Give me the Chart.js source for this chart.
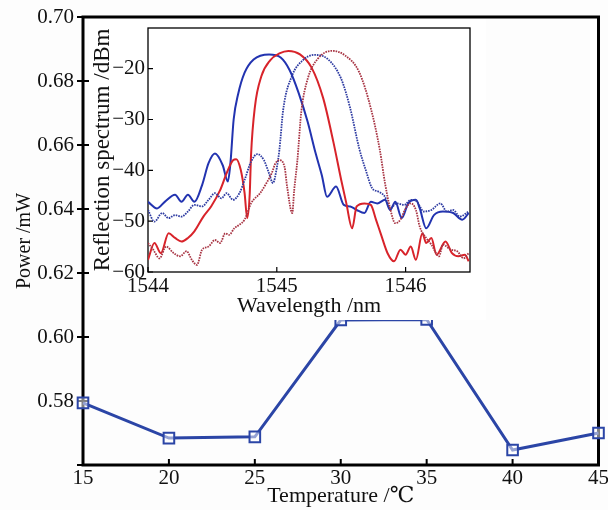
<!DOCTYPE html>
<html>
<head>
<meta charset="utf-8">
<script src="https://cdn.jsdelivr.net/npm/chart.js@4.4.0/dist/chart.umd.min.js"></script>
<style>
  html, body { margin: 0; padding: 0; background: #fdfdfd; }
  #wrap { position: relative; width: 608px; height: 510px; }
  #main { position: absolute; left: 0; top: 0; }
  #inset { position: absolute; left: 89px; top: 19px; background: #fff; }
</style>
</head>
<body>
<div id="wrap">
  <canvas id="main" width="608" height="510"></canvas>
  <canvas id="inset" width="397" height="301"></canvas>
</div>
<script>
// main plot: power vs temperature
const temps = [15, 20, 25, 30, 35, 40, 45];
const power = [0.5794, 0.5684, 0.5688, 0.6053, 0.6055, 0.5647, 0.5700];

// inset: reflection spectra (wavelength nm / level dBm)
const blueSolidNm = [1544.00,1544.07,1544.13,1544.21,1544.26,1544.31,1544.36,1544.42,1544.47,1544.52,1544.58,1544.62,1544.64,1544.665,1544.70,1544.75,1544.82,1544.94,1545.03,1545.10,1545.17,1545.24,1545.30,1545.35,1545.39,1545.46,1545.52,1545.57,1545.62,1545.68,1545.73,1545.78,1545.84,1545.88,1545.92,1545.97,1546.02,1546.08,1546.11,1546.16,1546.22,1546.29,1546.37,1546.44,1546.49];
const blueSolidDbm = [-46.2,-47.5,-46.2,-44.8,-46.2,-44.8,-46.2,-42.9,-38.6,-36.7,-39.0,-42.2,-38.6,-30.0,-25.0,-20.8,-18.2,-17.2,-17.8,-20.3,-24.8,-30.5,-36.5,-41.0,-45.2,-43.2,-46.8,-47.1,-47.8,-48.4,-46.2,-46.5,-45.8,-47.8,-46.2,-49.4,-46.5,-45.8,-47.5,-51.4,-48.8,-48.1,-48.4,-49.7,-48.4];

const redSolidNm = [1544.00,1544.05,1544.10,1544.16,1544.21,1544.26,1544.31,1544.36,1544.43,1544.49,1544.56,1544.61,1544.66,1544.685,1544.72,1544.75,1544.77,1544.79,1544.80,1544.83,1544.88,1544.95,1545.02,1545.09,1545.18,1545.27,1545.36,1545.44,1545.50,1545.54,1545.585,1545.62,1545.68,1545.73,1545.77,1545.81,1545.86,1545.91,1545.96,1546.00,1546.04,1546.08,1546.13,1546.16,1546.20,1546.24,1546.31,1546.36,1546.41,1546.46,1546.49];
const redSolidDbm = [-57.6,-54.3,-56.3,-52.4,-53.3,-54.0,-53.3,-52.0,-49.1,-47.1,-43.9,-40.6,-38.0,-37.8,-39.9,-44.5,-49.4,-44.5,-37.0,-27.5,-21.5,-18.3,-17.0,-16.5,-17.2,-19.8,-25.8,-34.5,-41.9,-46.5,-51.4,-47.1,-46.5,-46.8,-49.7,-52.7,-56.3,-57.9,-55.6,-56.6,-55.0,-57.6,-52.4,-54.3,-53.3,-56.6,-54.0,-56.3,-56.9,-56.6,-57.9];

const blueDotNm = [1544.00,1544.05,1544.11,1544.16,1544.21,1544.26,1544.31,1544.36,1544.42,1544.47,1544.52,1544.57,1544.61,1544.66,1544.71,1544.75,1544.80,1544.85,1544.90,1544.94,1544.97,1545.00,1545.02,1545.05,1545.12,1545.20,1545.29,1545.39,1545.50,1545.57,1545.64,1545.69,1545.74,1545.79,1545.84,1545.88,1545.93,1545.99,1546.04,1546.09,1546.14,1546.20,1546.27,1546.32,1546.37,1546.42,1546.49];
const blueDotDbm = [-47.8,-50.1,-48.4,-49.4,-48.8,-49.1,-48.1,-46.8,-47.1,-45.8,-44.5,-45.5,-44.5,-45.8,-44.5,-41.9,-38.3,-36.8,-38.0,-40.6,-42.5,-39.5,-36.0,-28.0,-21.3,-18.4,-17.3,-18.0,-22.0,-27.8,-35.7,-39.9,-43.5,-44.2,-45.2,-47.5,-46.5,-46.8,-45.8,-46.2,-48.1,-47.8,-46.5,-48.1,-47.8,-49.1,-48.1];

const redDotNm = [1544.00,1544.04,1544.09,1544.14,1544.20,1544.25,1544.30,1544.34,1544.38,1544.42,1544.47,1544.52,1544.56,1544.60,1544.63,1544.67,1544.71,1544.75,1544.80,1544.87,1544.92,1544.96,1544.99,1545.02,1545.06,1545.08,1545.12,1545.135,1545.16,1545.19,1545.24,1545.32,1545.43,1545.53,1545.64,1545.73,1545.80,1545.84,1545.88,1545.92,1545.96,1546.00,1546.04,1546.08,1546.11,1546.16,1546.20,1546.26,1546.29,1546.35,1546.40,1546.45,1546.49];
const redDotDbm = [-54.3,-55.6,-57.3,-55.0,-56.3,-56.9,-55.9,-57.6,-58.6,-55.6,-55.0,-53.7,-54.3,-52.4,-52.7,-51.4,-50.7,-49.7,-46.5,-44.5,-42.5,-40.6,-38.6,-38.0,-39.3,-43.2,-48.4,-43.9,-38.0,-28.5,-22.0,-18.0,-16.5,-17.4,-20.7,-27.8,-36.0,-42.5,-47.5,-50.4,-49.7,-47.5,-46.5,-47.8,-51.1,-53.3,-54.6,-56.9,-54.6,-55.6,-55.9,-57.3,-56.3];

const pts = (xs, ys) => xs.map((x, i) => ({ x: x, y: ys[i] }));
const minus = v => (v < 0 ? '\u2212' + Math.abs(v) : String(v));

Chart.defaults.font.family = '"Liberation Serif", "DejaVu Serif", serif';
Chart.defaults.color = '#111';

// box round the plot area plus inward tick marks
const framePlugin = {
  id: 'frame',
  beforeDatasetsDraw(chart, args, o) {
    const ctx = chart.ctx, a = chart.chartArea;
    ctx.save();
    ctx.strokeStyle = '#000';
    ctx.lineWidth = o.width;
    ctx.strokeRect(a.left, a.top, a.right - a.left, a.bottom - a.top);
    ctx.lineWidth = o.tickWidth;
    ctx.beginPath();
    if (o.xIn) {
      chart.scales.x.ticks.forEach(t => {
        const px = chart.scales.x.getPixelForValue(t.value);
        ctx.moveTo(px, a.bottom); ctx.lineTo(px, a.bottom - o.len);
      });
    }
    if (o.yIn) {
      chart.scales.y.ticks.forEach(t => {
        const py = chart.scales.y.getPixelForValue(t.value);
        ctx.moveTo(a.left, py); ctx.lineTo(a.left + o.len, py);
      });
    }
    ctx.stroke();
    ctx.restore();
  }
};

new Chart(document.getElementById('main'), {
  type: 'line',
  data: {
    datasets: [{
      data: pts(temps, power),
      borderColor: '#2b45a6',
      borderWidth: 3,
      pointStyle: 'rect',
      pointRadius: 7.5,
      pointBorderWidth: 2,
      pointBorderColor: '#2b45a6',
      pointBackgroundColor: 'rgba(255,255,255,0.5)',
      tension: 0,
      clip: false
    }]
  },
  options: {
    responsive: false,
    animation: false,
    events: [],
    layout: { padding: { left: 0, right: 8, top: 17, bottom: 0 } },
    plugins: {
      legend: { display: false },
      tooltip: { enabled: false },
      frame: { width: 3, tickWidth: 2, len: 6, xIn: true, yIn: true }
    },
    scales: {
      x: {
        type: 'linear', min: 15, max: 45,
        ticks: { stepSize: 5, font: { size: 21 }, padding: 1, maxRotation: 0 },
        grid: { display: false, drawTicks: false },
        border: { display: false },
        title: { display: true, text: 'Temperature /\u2103', font: { size: 22 }, padding: { top: 0, bottom: 1 } },
        afterFit: s => { s.height = 45; s.paddingLeft = 0; s.paddingRight = 0; }
      },
      y: {
        min: 0.56, max: 0.70,
        ticks: { stepSize: 0.02, font: { size: 21 }, padding: 3,
          callback: v => (v < 0.565 ? '' : v.toFixed(2)) },
        grid: { display: true, drawOnChartArea: false, drawTicks: true, tickLength: 6, color: '#000', lineWidth: 2 },
        border: { display: false },
        title: { display: true, text: 'Power /mW', font: { size: 20 }, padding: { top: 13, bottom: 0 } },
        afterFit: s => { s.width = 83; s.paddingTop = 0; s.paddingBottom = 0; }
      }
    }
  },
  plugins: [framePlugin]
});

const spec = (data, color, dotted) => ({
  data: data,
  borderColor: color,
  borderWidth: dotted ? 1.8 : 2,
  borderDash: dotted ? [1.6, 1] : [],
  pointRadius: 0,
  cubicInterpolationMode: 'monotone'
});

new Chart(document.getElementById('inset'), {
  type: 'line',
  data: {
    datasets: [
      spec(pts(redDotNm, redDotDbm), '#a83544', true),
      spec(pts(blueDotNm, blueDotDbm), '#2f3ca2', true),
      spec(pts(redSolidNm, redSolidDbm), '#d8232a', false),
      spec(pts(blueSolidNm, blueSolidDbm), '#2233b0', false)
    ]
  },
  options: {
    responsive: false,
    animation: false,
    events: [],
    layout: { padding: { left: 0, right: 16, top: 9, bottom: 0 } },
    plugins: {
      legend: { display: false },
      tooltip: { enabled: false },
      frame: { width: 1.3, tickWidth: 1.2, len: 5, xIn: true, yIn: true }
    },
    scales: {
      x: {
        type: 'linear', min: 1544, max: 1546.5,
        ticks: { stepSize: 1, includeBounds: false, font: { size: 21 }, padding: 2, maxRotation: 0,
          callback: v => String(v) },
        grid: { display: false, drawTicks: false },
        border: { display: false },
        title: { display: true, text: 'Wavelength /nm', font: { size: 22 }, padding: { top: 0, bottom: 1 } },
        afterFit: s => { s.height = 48; s.paddingLeft = 0; s.paddingRight = 0; }
      },
      y: {
        min: -60, max: -12,
        ticks: { stepSize: 10, includeBounds: false, font: { size: 21 }, padding: 3, callback: minus },
        grid: { display: false, drawTicks: false },
        border: { display: false },
        title: { display: true, text: 'Reflection spectrum /dBm', font: { size: 23 }, padding: { top: 0, bottom: 0 } },
        afterFit: s => { s.width = 59; s.paddingTop = 0; s.paddingBottom = 0; }
      }
    }
  },
  plugins: [framePlugin]
});
</script>
</body>
</html>
